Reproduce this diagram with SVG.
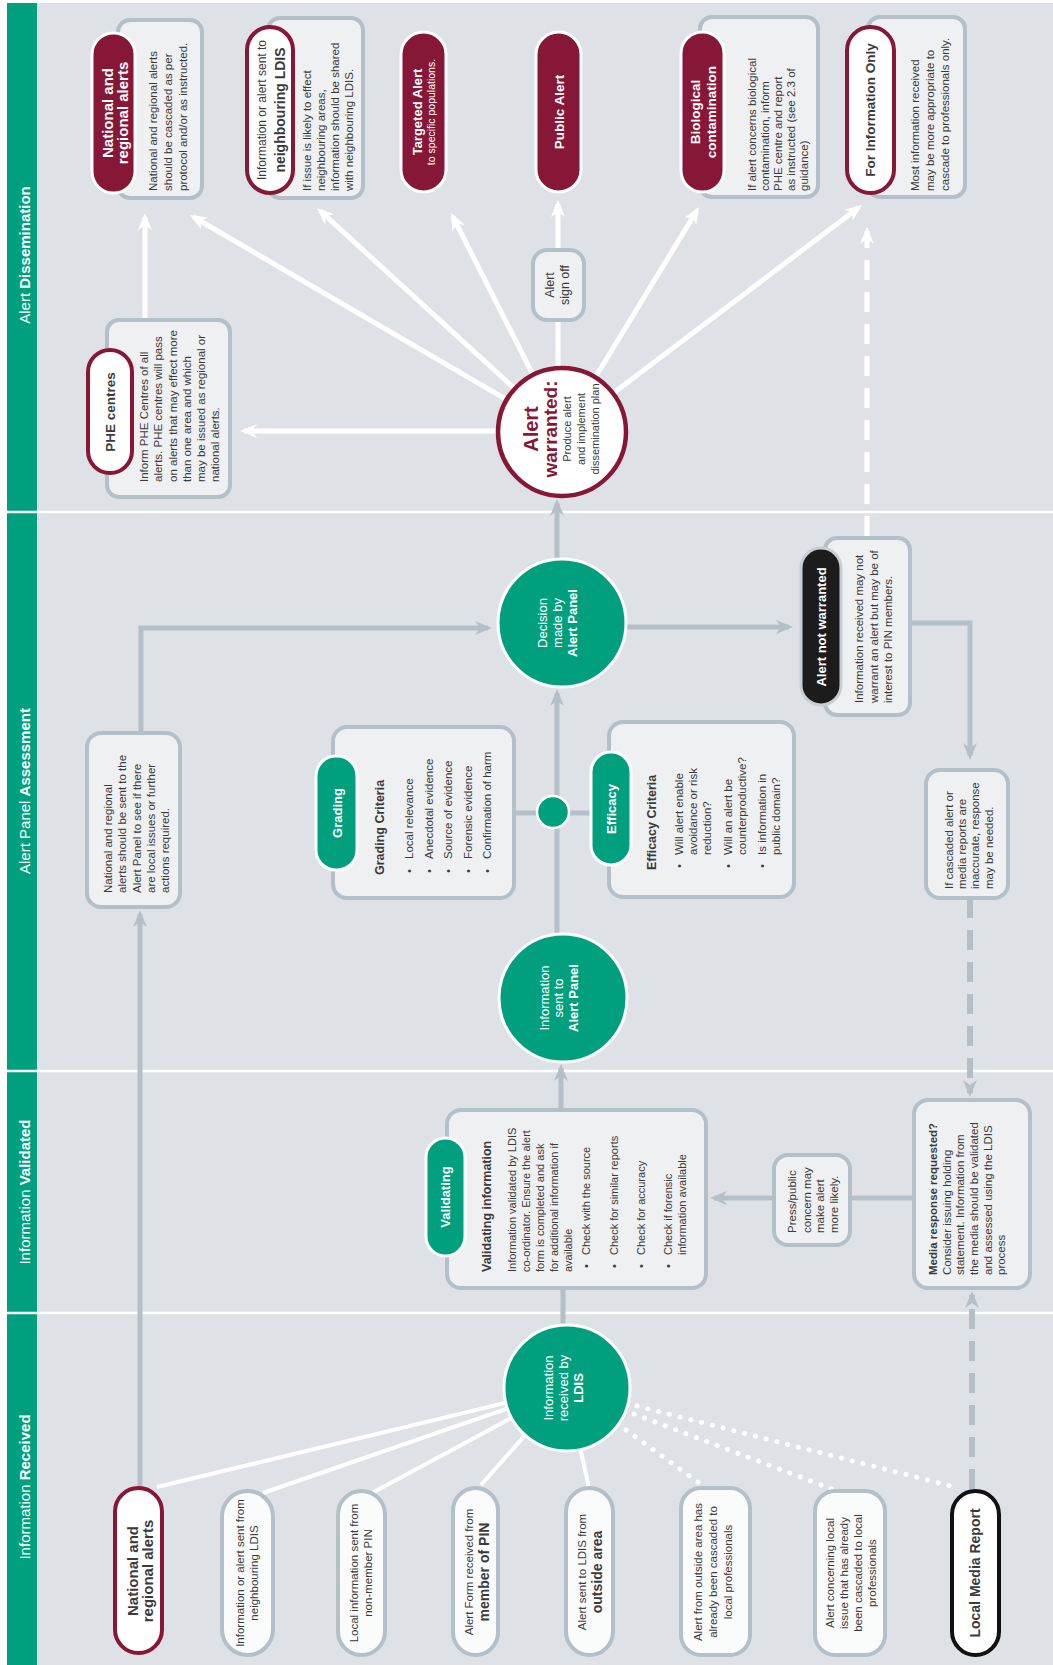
<svg xmlns="http://www.w3.org/2000/svg" width="1053" height="1665" viewBox="0 0 1053 1665">
<style>
text{font-family:"Liberation Sans",Arial,sans-serif;fill:#3a3a3a}
.b{font-weight:bold}
.w{fill:#fff}
.m{fill:#871736}
.c{text-anchor:middle}
.box{fill:#eef0f2;stroke:#b5bfc8;stroke-width:4}
.pw{fill:#fff;stroke:#871736;stroke-width:4}
.pm{fill:#871736;stroke:#fff;stroke-width:3}
.pg{fill:#fafbfb;stroke:#b5bfc8;stroke-width:4}
.tab{fill:#00a07e;stroke:#fff;stroke-width:3}
.gc{fill:#00a07e;stroke:#fff;stroke-width:3}
.gl{fill:none;stroke:#b5bfc8;stroke-width:5}
.wl{fill:none;stroke:#fff;stroke-width:5}
.wi{fill:none;stroke:#fff;stroke-width:4}
.dot{fill:none;stroke:#fff;stroke-width:5;stroke-linecap:round;stroke-dasharray:0.1 11}
.gd{stroke-dasharray:20 12;stroke-width:6}
.title{font-size:15px;fill:#fff}
.h{font-size:12.5px;font-weight:bold}
.pt{font-size:13.5px;font-weight:bold}
</style>
<defs>
<marker id="ag" markerUnits="userSpaceOnUse" viewBox="0 0 18 16" markerWidth="18" markerHeight="16" refX="13" refY="8" orient="auto"><path d="M0,1 L17,8 L0,15 L5,8 z" fill="#b5bfc8"/></marker>
<marker id="aw" markerUnits="userSpaceOnUse" viewBox="0 0 18 16" markerWidth="18" markerHeight="16" refX="13" refY="8" orient="auto"><path d="M0,1 L17,8 L0,15 L5,8 z" fill="#fff"/></marker>
</defs>
<rect width="1053" height="1665" fill="#fff"/>
<g transform="translate(0,1665) rotate(-90)" font-size="11.5">
<rect x="0" y="7" width="1662" height="1046" fill="#dee2e6"/>
<rect x="0" y="7" width="1662" height="30" fill="#00a07e"/>
<g id="dividers" stroke="#fff" stroke-width="2.5">
<line x1="1153" y1="7" x2="1153" y2="1053"/>
<line x1="594" y1="7" x2="594" y2="1053"/>
<line x1="352" y1="7" x2="352" y2="1053"/>
</g>
<g id="lane-titles">
<text class="title c" x="1410" y="30">Alert <tspan class="b">Dissemination</tspan></text>
<text class="title c" x="874" y="30">Alert Panel <tspan class="b">Assessment</tspan></text>
<text class="title c" x="473" y="30">Information <tspan class="b">Validated</tspan></text>
<text class="title c" x="178" y="30">Information <tspan class="b">Received</tspan></text>
</g>

<g id="connectors">
<line class="wl" x1="1234" y1="540" x2="1234" y2="244" marker-end="url(#aw)"/>
<line class="wl" x1="1233" y1="562" x2="1448" y2="193.5" marker-end="url(#aw)"/>
<line class="wl" x1="1233" y1="562" x2="1454.3" y2="320" marker-end="url(#aw)"/>
<line class="wl" x1="1233" y1="562" x2="1448.4" y2="452.8" marker-end="url(#aw)"/>
<line class="wl" x1="1233" y1="562" x2="1454.6" y2="697" marker-end="url(#aw)"/>
<line class="wl" x1="1233" y1="562" x2="1457.6" y2="858.8" marker-end="url(#aw)"/>
<line class="wl" x1="1233" y1="558" x2="1345" y2="558"/>
<line class="wl" x1="1415" y1="558" x2="1461" y2="558" marker-end="url(#aw)"/>
<line class="wl" x1="1345" y1="145" x2="1448" y2="145" marker-end="url(#aw)"/>
<line class="wl" x1="1129" y1="867" x2="1434" y2="867" stroke-dasharray="20 12" stroke-width="6" marker-end="url(#aw)"/>

<line class="gl" x1="177" y1="140" x2="751" y2="140" marker-end="url(#ag)"/>
<polyline class="gl" points="932,141 1037,141 1037,488" marker-end="url(#ag)"/>
<line class="gl" x1="1100" y1="557" x2="1162" y2="557" marker-end="url(#ag)"/>
<line class="gl" x1="1038" y1="600" x2="1038" y2="789" marker-end="url(#ag)"/>
<polyline class="gl" points="1042,910 1042,970 909,970" marker-end="url(#ag)"/>
<line class="gl gd" x1="767" y1="970" x2="572" y2="970" marker-end="url(#ag)"/>
<line class="gl gd" x1="176" y1="972" x2="370" y2="972" marker-end="url(#ag)"/>
<line class="gl" x1="467" y1="914" x2="467" y2="714" marker-end="url(#ag)"/>
<line class="gl" x1="320" y1="563" x2="378" y2="563"/>
<line class="gl" x1="555" y1="561" x2="597" y2="561" marker-end="url(#ag)"/>
<line class="gl" x1="700" y1="557" x2="972" y2="557" marker-end="url(#ag)"/>
<line class="gl" x1="852" y1="514" x2="852" y2="591"/>

<line class="wi" x1="178" y1="157" x2="277" y2="567"/>
<line class="wi" x1="172" y1="263" x2="277" y2="567"/>
<line class="wi" x1="172" y1="372" x2="277" y2="567"/>
<line class="wi" x1="180" y1="481" x2="277" y2="567"/>
<line class="wi" x1="177" y1="589" x2="277" y2="567"/>
<line class="dot" x1="235" y1="626" x2="180" y2="702"/>
<line class="dot" x1="251" y1="634" x2="176" y2="832"/>
<line class="dot" x1="259" y1="637" x2="178" y2="955"/>
</g>

<g id="n-national-diss">
<rect class="box" x="1467" y="118" width="178" height="84" rx="12"/>
<rect class="pm" x="1472" y="92" width="160" height="43" rx="21.5"/>
<text class="w c b" x="1552" y="113" font-size="15">National and</text>
<text class="w c b" x="1552" y="128" font-size="15">regional alerts</text>
<text x="1474" y="157">National and regional alerts</text>
<text x="1474" y="172">should be cascaded as per</text>
<text x="1474" y="187">protocol and/or as instructed.</text>
</g>
<g id="n-neighbouring-diss">
<rect class="box" x="1467" y="268" width="180" height="95" rx="12"/>
<rect class="pw" x="1472" y="247" width="166" height="46" rx="23"/>
<text class="c" x="1555" y="266" font-size="12">Information or alert sent to</text>
<text class="c b" x="1555" y="285" font-size="14">neighbouring LDIS</text>
<text x="1474" y="311">If issue is likely to effect</text>
<text x="1474" y="325">neighbouring areas,</text>
<text x="1474" y="339">information should be shared</text>
<text x="1474" y="353">with neighbouring LDIS.</text>
</g>
<g id="n-targeted">
<rect class="pm" x="1473" y="401" width="160" height="45" rx="22.5"/>
<text class="w c b" x="1553" y="422" font-size="13">Targeted Alert</text>
<text class="w c" x="1553" y="435" font-size="10.5">to specific populations.</text>
</g>
<g id="n-public">
<rect class="pm" x="1473" y="536" width="160" height="45" rx="22.5"/>
<text class="w c pt" x="1553" y="563.5">Public Alert</text>
</g>
<g id="n-biological">
<rect class="box" x="1468" y="700" width="180" height="118" rx="12"/>
<rect class="pm" x="1473" y="681" width="160" height="43" rx="21.5"/>
<text class="w c pt" x="1553" y="700">Biological</text>
<text class="w c pt" x="1553" y="716">contamination</text>
<text x="1474" y="756">If alert concerns biological</text>
<text x="1474" y="769">contamination, inform</text>
<text x="1474" y="782">PHE centre and report</text>
<text x="1474" y="795">as instructed (see 2.3 of</text>
<text x="1474" y="808">guidance)</text>
</g>
<g id="n-forinfo">
<rect class="box" x="1468" y="868" width="180" height="97" rx="12"/>
<rect class="pw" x="1472" y="847" width="166" height="47" rx="23.5"/>
<text class="c pt" x="1555" y="875">For Information Only</text>
<text x="1474" y="919">Most information received</text>
<text x="1474" y="934">may be more appropriate to</text>
<text x="1474" y="949">cascade to professionals only.</text>
</g>
<g id="n-phe">
<rect class="box" x="1168" y="107" width="177" height="123" rx="12"/>
<rect class="pw" x="1192" y="88" width="123" height="44" rx="22"/>
<text class="c pt" x="1253" y="115">PHE centres</text>
<text x="1183" y="148">Inform PHE Centres of all</text>
<text x="1183" y="162">alerts. PHE centres will pass</text>
<text x="1183" y="177">on alerts that may effect more</text>
<text x="1183" y="191">than one area and which</text>
<text x="1183" y="205">may be issued as regional or</text>
<text x="1183" y="219">national alerts.</text>
</g>
<g id="n-signoff">
<rect class="box" x="1345" y="533" width="70" height="51" rx="14"/>
<text class="c" x="1380" y="554" font-size="12.5">Alert</text>
<text class="c" x="1380" y="569" font-size="12.5">sign off</text>
</g>
<g id="n-warranted">
<circle cx="1233" cy="562" r="64" fill="#fff" stroke="#871736" stroke-width="4.5"/>
<text class="c b m" x="1236" y="538" font-size="20">Alert</text>
<text class="c b m" x="1236" y="557" font-size="19">warranted:</text>
<text class="c" x="1236" y="571" font-size="11">Produce alert</text>
<text class="c" x="1236" y="585" font-size="11">and implement</text>
<text class="c" x="1236" y="599" font-size="11">dissemination plan</text>
</g>

<g id="n-decision">
<circle class="gc" cx="1042" cy="562" r="64"/>
<text class="w c" x="1042" y="547" font-size="13">Decision</text>
<text class="w c" x="1042" y="562" font-size="13">made by</text>
<text class="w c b" x="1042" y="577" font-size="13">Alert Panel</text>
</g>
<g id="n-not-warranted">
<rect class="box" x="950" y="825" width="177" height="85" rx="12"/>
<rect x="960" y="801" width="157" height="40" rx="20" fill="#1c1c1c" stroke="#c8ced4" stroke-width="3"/>
<text class="w c b" x="1038" y="825.5" font-size="13">Alert not warranted</text>
<text x="962" y="863">Information received may not</text>
<text x="962" y="878">warrant an alert but may be of</text>
<text x="962" y="892">interest to PIN members.</text>
</g>
<g id="n-cascaded">
<rect class="box" x="767" y="926" width="128" height="82" rx="14"/>
<text x="776" y="953">If cascaded alert or</text>
<text x="776" y="966">media reports are</text>
<text x="776" y="979">inaccurate, response</text>
<text x="776" y="993">may be needed.</text>
</g>
<g id="n-national-assess">
<rect class="box" x="758" y="87" width="174" height="93" rx="14"/>
<text x="772" y="112">National and regional</text>
<text x="772" y="126">alerts should be sent to the</text>
<text x="772" y="141">Alert Panel to see if there</text>
<text x="772" y="155">are local issues or further</text>
<text x="772" y="169">actions required.</text>
</g>
<g id="n-grading">
<rect class="box" x="767" y="333" width="171" height="181" rx="14"/>
<rect class="tab" x="795" y="316" width="114" height="41" rx="20"/>
<text class="w c b" x="852" y="341.5" font-size="13">Grading</text>
<text class="h" x="790" y="383.5">Grading Criteria</text>
<text x="792" y="413">•</text><text x="806" y="413">Local relevance</text>
<text x="792" y="432.5">•</text><text x="806" y="432.5">Anecdotal evidence</text>
<text x="792" y="452">•</text><text x="806" y="452">Source of evidence</text>
<text x="792" y="472">•</text><text x="806" y="472">Forensic evidence</text>
<text x="792" y="491">•</text><text x="806" y="491">Confirmation of harm</text>
</g>
<g id="n-efficacy">
<rect class="box" x="768" y="609" width="175" height="185" rx="14"/>
<rect class="tab" x="800" y="591" width="113" height="40" rx="20"/>
<text class="w c b" x="856" y="615.5" font-size="13">Efficacy</text>
<text class="h" x="795" y="655.5">Efficacy Criteria</text>
<text x="797" y="683">•</text>
<text x="810" y="683">Will alert enable</text>
<text x="810" y="697">avoidance or risk</text>
<text x="810" y="711">reduction?</text>
<text x="797" y="732">•</text>
<text x="810" y="732">Will an alert be</text>
<text x="810" y="746">counterproductive?</text>
<text x="797" y="766">•</text>
<text x="810" y="766">Is information in</text>
<text x="810" y="780">public domain?</text>
</g>
<g id="n-dot">
<circle cx="853" cy="553" r="16" fill="#00a07e" stroke="#fff" stroke-width="2.5"/>
</g>
<g id="n-info-sent">
<circle class="gc" cx="667" cy="563" r="64"/>
<text class="w c" x="667" y="548.5" font-size="13">Information</text>
<text class="w c" x="667" y="562.5" font-size="13">sent to</text>
<text class="w c b" x="667" y="577.5" font-size="13">Alert Panel</text>
</g>

<g id="n-validating">
<rect class="box" x="377" y="447" width="178" height="259" rx="14"/>
<rect class="tab" x="409" y="426" width="118" height="39" rx="19.5"/>
<text class="w c b" x="468" y="449.5" font-size="13">Validating</text>
<text class="h" x="393" y="490.5">Validating information</text>
<g font-size="11">
<text x="393" y="516">Information validated by LDIS</text>
<text x="393" y="530">co-ordinator. Ensure the alert</text>
<text x="393" y="544">form is completed and ask</text>
<text x="393" y="558">for additional information if</text>
<text x="393" y="572">available</text>
<text x="397" y="590">•</text><text x="410" y="590">Check with the source</text>
<text x="397" y="618">•</text><text x="410" y="618">Check for similar reports</text>
<text x="397" y="645">•</text><text x="410" y="645">Check for accuracy</text>
<text x="397" y="672">•</text><text x="410" y="672">Check if forensic</text>
<text x="410" y="686">information available</text>
</g>
</g>
<g id="n-press">
<rect class="box" x="420" y="774" width="90" height="76" rx="14"/>
<text x="432" y="796">Press/public</text>
<text x="432" y="811">concern may</text>
<text x="432" y="824">make alert</text>
<text x="432" y="838">more likely.</text>
</g>
<g id="n-media-response">
<rect class="box" x="377" y="914" width="188" height="116" rx="14"/>
<text class="b" x="390" y="937">Media response requested?</text>
<text x="390" y="951">Consider issuing holding</text>
<text x="390" y="964">statement. Information from</text>
<text x="390" y="978">the media should be validated</text>
<text x="390" y="992">and assessed using the LDIS</text>
<text x="390" y="1005">process</text>
</g>

<g id="n-info-received">
<circle class="gc" cx="277" cy="567" r="63"/>
<text class="w c" x="277" y="552.5" font-size="13">Information</text>
<text class="w c" x="277" y="567.5" font-size="13">received by</text>
<text class="w c b" x="277" y="582.5" font-size="13">LDIS</text>
</g>
<g id="in-national">
<rect class="pw" x="12" y="115" width="165" height="47" rx="23.5"/>
<text class="c b" x="94" y="138" font-size="15">National and</text>
<text class="c b" x="94" y="153" font-size="15">regional alerts</text>
</g>
<g id="in-neighbouring">
<rect class="pg" x="10" y="222" width="164" height="51" rx="25.5"/>
<text class="c" x="92" y="244">Information or alert sent from</text>
<text class="c" x="92" y="258">neighbouring LDIS</text>
</g>
<g id="in-local">
<rect class="pg" x="10" y="338" width="164" height="47" rx="23.5"/>
<text class="c" x="92" y="358">Local information sent from</text>
<text class="c" x="92" y="372">non-member PIN</text>
</g>
<g id="in-member">
<rect class="pg" x="10" y="453" width="167" height="45" rx="22.5"/>
<text class="c" x="93" y="473">Alert Form received from</text>
<text class="c b" x="93" y="489" font-size="14">member of PIN</text>
</g>
<g id="in-outside">
<rect class="pg" x="10" y="566" width="167" height="47" rx="23.5"/>
<text class="c" x="93" y="586">Alert sent to LDIS from</text>
<text class="c b" x="93" y="602" font-size="14">outside area</text>
</g>
<g id="in-cascaded-outside">
<rect class="pg" x="10" y="681" width="167" height="69" rx="20"/>
<text class="c" x="93" y="702">Alert from outside area has</text>
<text class="c" x="93" y="717">already been cascaded to</text>
<text class="c" x="93" y="732">local professionals</text>
</g>
<g id="in-cascaded-local">
<rect class="pg" x="10" y="815" width="164" height="70" rx="20"/>
<text class="c" x="92" y="834">Alert concerning local</text>
<text class="c" x="92" y="848">issue that has already</text>
<text class="c" x="92" y="862">been cascaded to local</text>
<text class="c" x="92" y="876">professionals</text>
</g>
<g id="in-media">
<rect x="10" y="952" width="164" height="47" rx="23.5" fill="#fff" stroke="#111" stroke-width="4"/>
<text class="c b" x="92" y="980" font-size="14">Local Media Report</text>
</g>
</g>
</svg>
